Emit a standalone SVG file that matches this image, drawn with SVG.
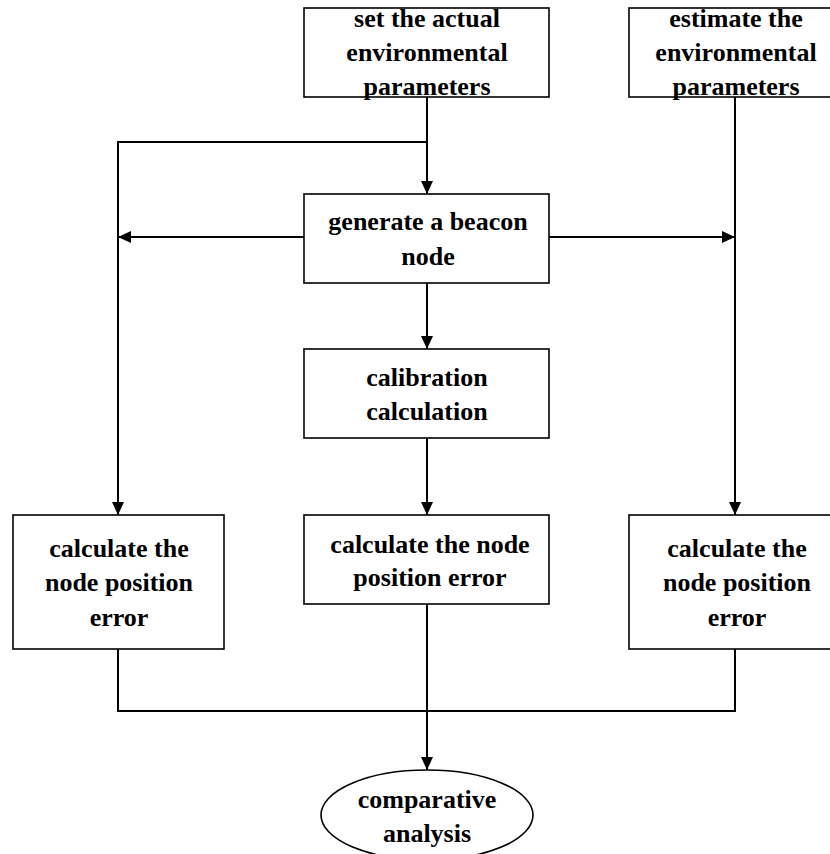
<svg xmlns="http://www.w3.org/2000/svg" width="830" height="854" viewBox="0 0 830 854">
<style>
.box{fill:#fff;stroke:#000;stroke-width:1.6}
.t{font-family:"Liberation Serif","Times New Roman",serif;font-weight:bold;font-size:26px;text-anchor:middle;fill:#000}
.c{fill:none;stroke:#000;stroke-width:2}
</style>
<defs>
<marker id="ah" markerUnits="userSpaceOnUse" markerWidth="13" markerHeight="12" refX="13" refY="6" orient="auto">
<path d="M0,0 L13,6 L0,12 z" fill="#000"/>
</marker>
</defs>
<rect width="830" height="854" fill="#fff"/>
<g id="connectors">
<path class="c" d="M427,97 V194" marker-end="url(#ah)"/>
<path class="c" d="M427,142 H118 V515" marker-end="url(#ah)"/>
<path class="c" d="M735,97 V515" marker-end="url(#ah)"/>
<path class="c" d="M304,237 H118" marker-end="url(#ah)"/>
<path class="c" d="M549,237 H735" marker-end="url(#ah)"/>
<path class="c" d="M427,283 V349" marker-end="url(#ah)"/>
<path class="c" d="M427,438 V515" marker-end="url(#ah)"/>
<path class="c" d="M118,649 V711 H735 V649"/>
<path class="c" d="M427,604 V770" marker-end="url(#ah)"/>
</g>
<g id="set-params">
<rect class="box" x="304" y="8" width="245" height="89"/>
<text class="t" x="427" y="27">set the actual</text>
<text class="t" x="427" y="61">environmental</text>
<text class="t" x="427" y="95">parameters</text>
</g>
<g id="estimate-params">
<rect class="box" x="629" y="8" width="214" height="89"/>
<text class="t" x="736" y="27">estimate the</text>
<text class="t" x="736" y="61">environmental</text>
<text class="t" x="736" y="95">parameters</text>
</g>
<g id="generate-beacon">
<rect class="box" x="304" y="194" width="245" height="89"/>
<text class="t" x="428" y="230">generate a beacon</text>
<text class="t" x="428" y="265">node</text>
</g>
<g id="calibration">
<rect class="box" x="304" y="349" width="245" height="89"/>
<text class="t" x="427" y="386">calibration</text>
<text class="t" x="427" y="420">calculation</text>
</g>
<g id="calc-left">
<rect class="box" x="13" y="515" width="211" height="134"/>
<text class="t" x="119" y="557">calculate the</text>
<text class="t" x="119" y="591">node position</text>
<text class="t" x="119" y="626">error</text>
</g>
<g id="calc-center">
<rect class="box" x="304" y="515" width="245" height="89"/>
<text class="t" x="430" y="553">calculate the node</text>
<text class="t" x="430" y="586">position error</text>
</g>
<g id="calc-right">
<rect class="box" x="629" y="515" width="214" height="134"/>
<text class="t" x="737" y="557">calculate the</text>
<text class="t" x="737" y="591">node position</text>
<text class="t" x="737" y="626">error</text>
</g>
<g id="comparative">
<ellipse class="box" cx="427" cy="815" rx="106" ry="45"/>
<text class="t" x="427" y="808">comparative</text>
<text class="t" x="427" y="842">analysis</text>
</g>
</svg>
